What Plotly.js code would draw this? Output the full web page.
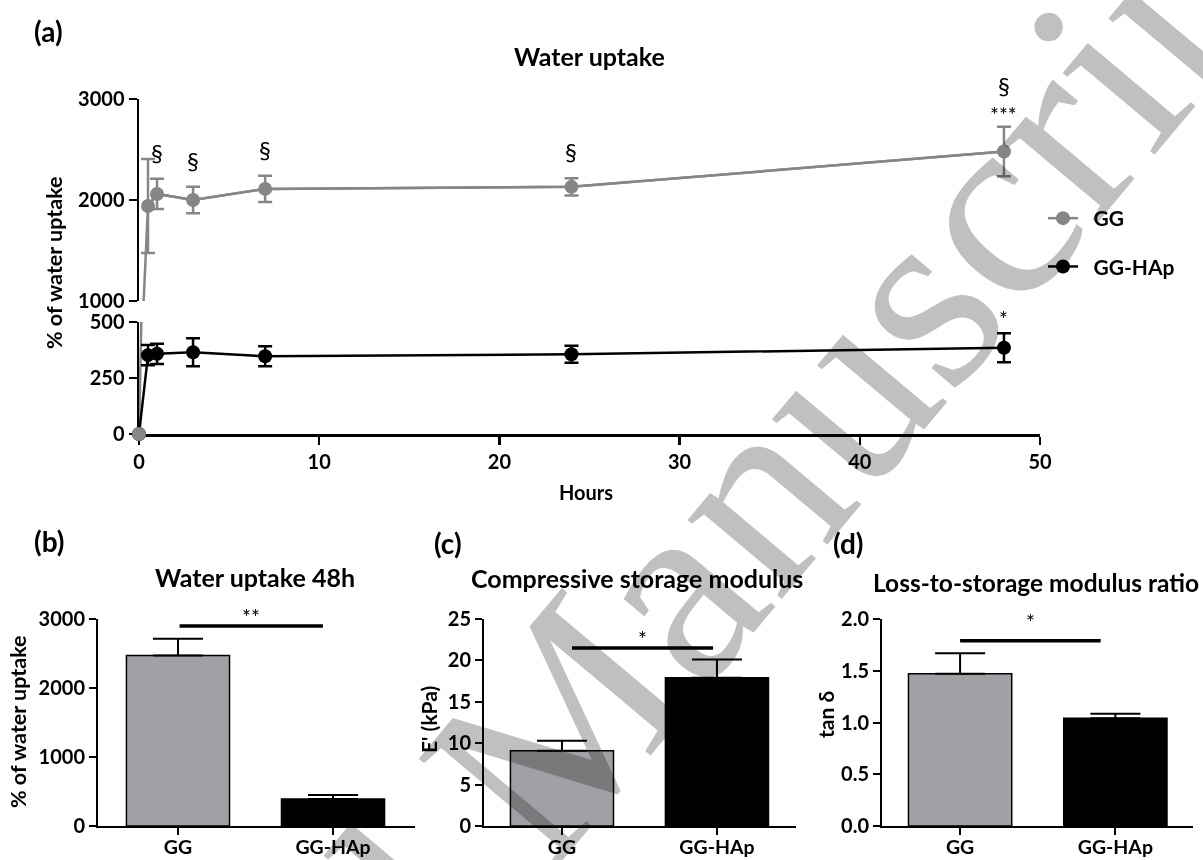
<!DOCTYPE html>
<html>
<head>
<meta charset="utf-8">
<script src="https://cdn.plot.ly/plotly-3.0.1.min.js"></script>
<style>html,body{margin:0;padding:0;background:#fff}</style>
</head>
<body>
<div id="chart" style="width:1203px;height:860px"></div>
<script>
// ---------------- data ----------------
const hours = [0, 0.5, 1, 3, 7, 24, 48];
const ggUptake = [0, 1940, 2060, 2000, 2110, 2130, 2480];
const ggUptakeErr = [0, 465, 150, 130, 130, 85, 245];
const hapUptake = [0, 352, 358, 365, 347, 356, 385];
const hapUptakeErr = [0, 45, 45, 62, 45, 38, 65];
const ggSection = ['', '', '§', '§', '§', '§', '§'];
const ggStars = ['', '', '', '', '', '', '***'];
const hapStars = ['', '', '', '', '', '', '*'];

const barGroups = ['GG', 'GG-HAp'];
const uptake48 = [2470, 390];
const uptake48Err = [245, 58];
const storageModulus = [9.1, 17.9];
const storageModulusErr = [1.2, 2.2];
const tanDelta = [1.47, 1.04];
const tanDeltaErr = [0.2, 0.045];
const barSig = ['**', '*', '*'];
const barSigLevel = [2900, 21.5, 1.79];

// ---------------- layout helpers ----------------
const W = 1203, H = 860;
const fx = p => p / W;
const fy = p => 1 - p / H;
const FONT = 'Lato, "Open Sans", sans-serif';
const GREY = '#868686';
const BARGREY = '#a1a1a5';
const lowerRange = [0, 500];
const upperRange = [1000, 3000];
const inRange = (v, r) => v >= r[0] && v <= r[1];
const pick = (arr, vals, r) => arr.filter((_, i) => inRange(vals[i], r));

const tickFont = {family: FONT, size: 20, color: '#000', weight: 'bold'};
const axBase = {
  showline: true, linecolor: '#000', linewidth: 2.5, ticks: 'outside', ticklen: 8,
  tickwidth: 2.5, tickcolor: '#000', showgrid: false, zeroline: false,
  tickfont: tickFont, fixedrange: true, layer: 'below traces'
};
const ax = extra => Object.assign({}, axBase, extra);

// ---------------- traces: panel (a) ----------------
const data = [];
data.push({
  x: hours, y: ggUptake, xaxis: 'x', yaxis: 'y', mode: 'lines',
  line: {color: GREY, width: 2.5}, showlegend: false, hoverinfo: 'skip'
});
data.push({
  x: pick(hours, ggUptake, upperRange), y: pick(ggUptake, ggUptake, upperRange),
  xaxis: 'x', yaxis: 'y2', mode: 'lines+markers', name: '\u2002GG', legendgroup: 'gg',
  line: {color: GREY, width: 2.5}, marker: {color: GREY, size: 14, line: {width: 0}},
  error_y: {type: 'data', array: pick(ggUptakeErr, ggUptake, upperRange), color: GREY, thickness: 2.5, width: 7},
  cliponaxis: false
});
data.push({
  x: hours, y: ggUptake, xaxis: 'x', yaxis: 'y2', mode: 'lines',
  line: {color: GREY, width: 2.5}, showlegend: false, hoverinfo: 'skip'
});
data.push({
  x: hours, y: hapUptake, xaxis: 'x', yaxis: 'y', mode: 'lines+markers', name: '\u2002GG-HAp', legendgroup: 'hap',
  line: {color: '#000', width: 2.5}, marker: {color: '#000', size: 14, line: {width: 0}},
  error_y: {type: 'data', array: hapUptakeErr, color: '#000', thickness: 2.5, width: 7},
  cliponaxis: false
});
data.push({
  x: pick(hours, ggUptake, lowerRange), y: pick(ggUptake, ggUptake, lowerRange),
  xaxis: 'x', yaxis: 'y', mode: 'markers', showlegend: false,
  marker: {color: GREY, size: 14, line: {width: 0}}, cliponaxis: false
});

// ---------------- traces: bar panels ----------------
const barPanels = [
  {xa: 'x2', ya: 'y3', vals: uptake48, errs: uptake48Err, span: [0.01, 0.935], shift: -5},
  {xa: 'x3', ya: 'y4', vals: storageModulus, errs: storageModulusErr, span: [0.065, 0.975], shift: -5},
  {xa: 'x4', ya: 'y5', vals: tanDelta, errs: tanDeltaErr, span: [0.0, 0.905], shift: 5}
];
barPanels.forEach(p => {
  data.push({
    type: 'bar', x: barGroups, y: p.vals, xaxis: p.xa, yaxis: p.ya, width: 0.665,
    marker: {color: [BARGREY, '#000'], line: {color: '#000', width: 1.5}},
    error_y: {type: 'data', symmetric: false, array: p.errs, arrayminus: p.errs.map(() => 0),
              color: '#000', thickness: 2, width: 25},
    showlegend: false, hoverinfo: 'skip'
  });
});

// ---------------- annotations ----------------
const ann = [];
ann.push({
  text: 'Accepted Manuscript', xref: 'paper', yref: 'paper', x: fx(525), y: fy(765),
  showarrow: false, textangle: -50, xanchor: 'center', yanchor: 'middle',
  font: {family: '"Liberation Serif", "DejaVu Serif", serif', size: 268, color: '#c0c0c0'}
});
const label = (text, x, y, size, extra) => Object.assign({
  text, xref: 'paper', yref: 'paper', x: fx(x), y: fy(y), showarrow: false,
  xanchor: 'center', yanchor: 'middle',
  font: {family: FONT, size, color: '#000', weight: 'bold'}
}, extra || {});

ann.push(label('(a)', 32, 31, 28, {xanchor: 'left'}));
ann.push(label('(b)', 32, 541, 28, {xanchor: 'left'}));
ann.push(label('(c)', 432, 543, 28, {xanchor: 'left'}));
ann.push(label('(d)', 831, 543, 28, {xanchor: 'left'}));

ann.push(label('Water uptake', 589, 56, 25));
ann.push(label('Water uptake 48h', 255, 577, 25));
ann.push(label('Compressive storage modulus', 637, 578, 25));
ann.push(label('Loss-to-storage modulus ratio', 1036, 582, 24.5));

ann.push(label('% of water uptake', 54, 263, 21.5, {textangle: -90}));
ann.push(label('Hours', 586, 492, 20));
ann.push(label('% of water uptake', 18, 722, 21.5, {textangle: -90}));
ann.push(label("E' (kPa)", 428, 720, 21, {textangle: -90}));
ann.push(label('tan δ', 825, 715, 21, {textangle: -90}));

hours.forEach((h, i) => {
  const top = ggUptake[i] + ggUptakeErr[i];
  if (ggStars[i]) ann.push({x: h, y: top, xref: 'x', yref: 'y2', text: ggStars[i], showarrow: false,
    yanchor: 'bottom', yshift: -2, font: {family: FONT, size: 21, color: '#000'}});
  if (ggSection[i]) ann.push({x: h, y: top, xref: 'x', yref: 'y2', text: ggSection[i], showarrow: false,
    yanchor: 'bottom', yshift: ggStars[i] ? 25 : 10, font: {family: FONT, size: 24, color: '#000'}});
  if (hapStars[i]) ann.push({x: h, y: hapUptake[i] + hapUptakeErr[i], xref: 'x', yref: 'y', text: hapStars[i],
    showarrow: false, yanchor: 'bottom', yshift: 0, font: {family: FONT, size: 21, color: '#000'}});
});

const shapes = [];
barPanels.forEach((p, i) => {
  shapes.push({type: 'line', xref: p.xa, yref: p.ya, x0: p.span[0], x1: p.span[1],
    y0: barSigLevel[i], y1: barSigLevel[i], line: {color: '#000', width: 3.5}});
  ann.push({x: (p.span[0] + p.span[1]) / 2, y: barSigLevel[i], xref: p.xa, yref: p.ya, text: barSig[i],
    showarrow: false, yanchor: 'bottom', yshift: p.shift, font: {family: FONT, size: 21, color: '#000'}});
});

// ---------------- layout ----------------
const barX = (d0, d1, r0, r1) => ax({domain: [fx(d0), fx(d1)], type: 'category', range: [r0, r1],
  linewidth: 2, tickwidth: 2, ticklen: 7, ticklabelstandoff: -4,
  tickfont: Object.assign({}, tickFont, {size: 19.5})});
const barY = (range, dtick, extra) => ax(Object.assign({domain: [fy(826), fy(619)], range, dtick,
  linewidth: 2, tickwidth: 2, ticklen: 7}, extra || {}));

const layout = {
  width: W, height: H, margin: {l: 0, r: 0, t: 0, b: 0},
  paper_bgcolor: '#fff', plot_bgcolor: 'rgba(0,0,0,0)',
  font: {family: FONT, color: '#000'},
  showlegend: true,
  legend: {x: fx(1043), y: fy(198), xanchor: 'left', yanchor: 'top',
    traceorder: 'grouped', tracegroupgap: 18, bgcolor: 'rgba(0,0,0,0)',
    font: {family: FONT, size: 21, color: '#000', weight: 'bold'}},
  xaxis: ax({domain: [fx(139), fx(1040)], range: [0, 50], dtick: 10, anchor: 'y'}),
  yaxis: ax({domain: [fy(434), fy(322)], range: lowerRange, tickvals: [0, 250, 500], anchor: 'x'}),
  yaxis2: ax({domain: [fy(301), fy(99)], range: upperRange, tickvals: [1000, 2000, 3000], anchor: 'x'}),
  xaxis2: Object.assign(barX(98, 415, -0.516, 1.529), {anchor: 'y3'}),
  yaxis3: Object.assign(barY([0, 3000], 1000), {anchor: 'x2'}),
  xaxis3: Object.assign(barX(484, 796, -0.503, 1.51), {anchor: 'y4'}),
  yaxis4: Object.assign(barY([0, 25], 5), {anchor: 'x3'}),
  xaxis4: Object.assign(barX(882, 1193, -0.503, 1.50), {anchor: 'y5'}),
  yaxis5: Object.assign(barY([0, 2], 0.5, {tickformat: '.1f'}), {anchor: 'x4'}),
  annotations: ann,
  shapes: shapes
};

Plotly.newPlot('chart', data, layout, {displayModeBar: false, staticPlot: true}).then(gd => {
  gd.querySelectorAll('.annotation').forEach(a => {
    if (a.textContent === 'Accepted Manuscript') {
      a.style.mixBlendMode = 'multiply';
      if (a.ownerSVGElement) a.ownerSVGElement.style.mixBlendMode = 'multiply';
    }
  });
});
</script>
</body>
</html>
